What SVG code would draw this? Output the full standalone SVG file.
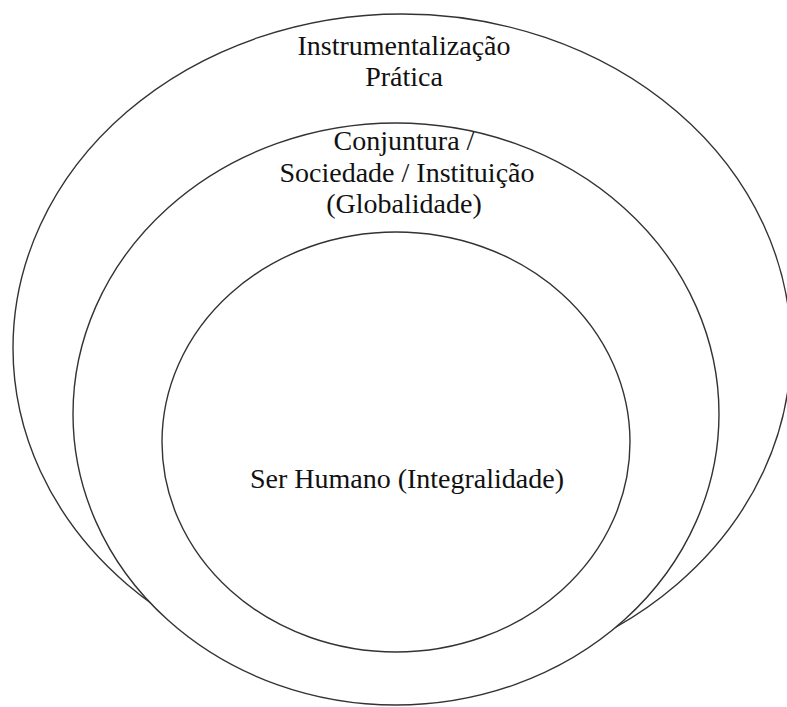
<svg xmlns="http://www.w3.org/2000/svg" width="787" height="707" viewBox="0 0 787 707">
<style>
.c{fill:#fff;stroke:#333;stroke-width:1.4}
.t{font-family:"Liberation Serif","Times New Roman",serif;font-size:28px;fill:#111;text-anchor:middle}
</style>
<rect width="787" height="707" fill="#fff"/>
<g id="outer">
<ellipse class="c" cx="402" cy="348" rx="389" ry="334"/>
<text class="t" x="404" y="55">Instrumentalização</text>
<text class="t" x="404" y="86">Prática</text>
</g>
<g id="middle">
<ellipse class="c" cx="396" cy="414" rx="323" ry="291"/>
<text class="t" x="404" y="150">Conjuntura /</text>
<text class="t" x="407" y="182">Sociedade / Instituição</text>
<text class="t" x="404" y="213">(Globalidade)</text>
</g>
<g id="inner">
<ellipse class="c" cx="396" cy="442" rx="234" ry="210"/>
<text class="t" x="407" y="488">Ser Humano (Integralidade)</text>
</g>
<g id="connectors"/>
</svg>
